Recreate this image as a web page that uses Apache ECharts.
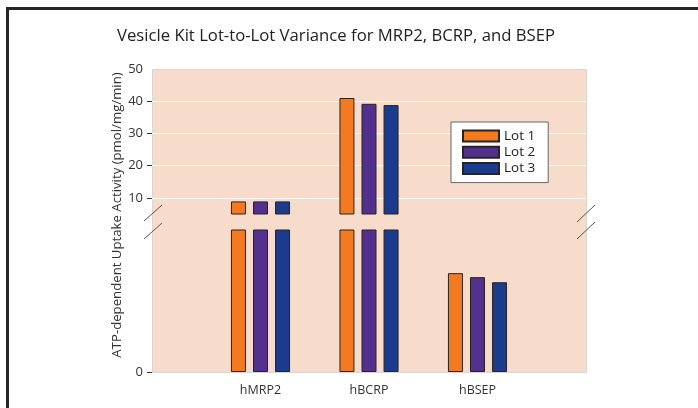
<!doctype html>
<html>
<head>
<meta charset="utf-8">
<title>Vesicle Kit Lot-to-Lot Variance</title>
<script src="https://cdn.jsdelivr.net/npm/echarts@6.0.0/dist/echarts.min.js"></script>
<style>
html,body{margin:0;padding:0;background:#fff;}
#chart{width:698px;height:408px;}
</style>
</head>
<body>
<div id="chart"></div>
<script>
var categories = ['hMRP2', 'hBCRP', 'hBSEP'];
var lotNames = ['Lot 1', 'Lot 2', 'Lot 3'];
var lot1 = [8.9, 41.0, 3.48];
var lot2 = [8.9, 39.2, 3.34];
var lot3 = [8.9, 38.8, 3.16];
var upperTicks = [10, 20, 30, 40, 50];
var lowerTicks = [0];
var lowerMax = 5;   // top of the segment under the break
var upperMin = 5;   // bottom of the segment over the break
var upperMax = 50;

var colors = ['#f47a21', '#53308d', '#1b3b8c'];

// plot box (px)
var L = 152, R = 586, T = 69, B = 372;
var upperBottom = 214, lowerTop = 230;

var axisData = [''].concat(categories, ['']);
function pad(arr) { return [null].concat(arr, [null]); }
var lots = [lot1, lot2, lot3];

var series = [];
lots.forEach(function (vals, i) {
    [1, 0].forEach(function (g) {
        series.push({
            name: lotNames[i],
            type: 'bar',
            xAxisIndex: g,
            yAxisIndex: g,
            barWidth: 15,
            barGap: '47%',
            data: pad(vals),
            itemStyle: { color: colors[i], borderColor: '#2b2220', borderWidth: 1 },
            emphasis: { disabled: true }
        });
    });
});

var yBase = {
    type: 'value',
    axisLine: { show: false },
    axisTick: { show: true, length: 5, lineStyle: { color: '#333' } },
    axisLabel: { color: '#333', fontSize: 13, margin: 9, fontFamily: 'Open Sans' }
};

var chart = echarts.init(document.getElementById('chart'));
chart.setOption({
    animation: false,
    title: {
        text: 'Vesicle Kit Lot-to-Lot Variance for MRP2, BCRP, and BSEP',
        left: 331, top: 23, textAlign: 'center',
        textStyle: { fontSize: 16.7, fontWeight: 'normal', color: '#222', fontFamily: 'Open Sans' }
    },
    legend: {
        orient: 'vertical',
        left: 451, top: 122,
        padding: [7, 13, 7, 11],
        itemWidth: 36, itemHeight: 11, itemGap: 2.3,
        backgroundColor: '#fff', borderColor: '#666', borderWidth: 1,
        icon: 'rect',
        data: lotNames,
        textStyle: { fontSize: 13.5, color: '#222', fontFamily: 'Open Sans' }
    },
    grid: [
        { left: L, width: R - L, top: T, height: upperBottom - T },
        { left: L, width: R - L, top: lowerTop, height: B - lowerTop }
    ],
    xAxis: [
        { type: 'category', gridIndex: 0, data: axisData, boundaryGap: false, show: false },
        {
            type: 'category', gridIndex: 1, data: axisData, boundaryGap: false,
            axisLine: { show: false }, axisTick: { show: false },
            axisLabel: { color: '#333', fontSize: 12.5, margin: 12, fontFamily: 'Open Sans', interval: 0 }
        }
    ],
    yAxis: [
        Object.assign({}, yBase, {
            gridIndex: 0, min: upperMin, max: upperMax,
            axisTick: { show: true, length: 5, lineStyle: { color: '#333' }, customValues: upperTicks.slice(0, -1) },
            axisLabel: Object.assign({}, yBase.axisLabel, { customValues: upperTicks }),
            splitLine: { show: true, lineStyle: { color: '#fff', width: 1.2 } }
        }),
        Object.assign({}, yBase, {
            gridIndex: 1, min: 0, max: lowerMax,
            axisTick: { show: true, length: 5, lineStyle: { color: '#333' }, customValues: lowerTicks },
            axisLabel: Object.assign({}, yBase.axisLabel, { customValues: lowerTicks }),
            splitLine: { show: false }
        })
    ],
    graphic: [
        {   // outer frame: only its top and left sides are inside the picture
            type: 'polyline', z: -20, silent: true,
            shape: { points: [[7.5, 420], [7.5, 8.5], [710, 8.5]] },
            style: { fill: null, stroke: '#262626', lineWidth: 3 }
        },
        {   // plot background across both segments
            type: 'rect', z: -10, silent: true,
            shape: { x: L + 0.5, y: T + 0.5, width: R - L, height: B - T },
            style: { fill: '#f8dccb', stroke: '#dcd6d2', lineWidth: 1 }
        },
        {
            type: 'text', silent: true,
            x: 117, y: 215, rotation: Math.PI / 2,
            style: {
                text: 'ATP-dependent Uptake Activity (pmol/mg/min)',
                fontSize: 13.2, fill: '#333', fontFamily: 'Open Sans',
                align: 'center', verticalAlign: 'middle'
            }
        },
        { type: 'line', silent: true, shape: { x1: 144, y1: 221, x2: 162, y2: 205 }, style: { stroke: '#555', lineWidth: 1 } },
        { type: 'line', silent: true, shape: { x1: 144, y1: 239, x2: 162, y2: 223 }, style: { stroke: '#555', lineWidth: 1 } },
        { type: 'line', silent: true, shape: { x1: 577, y1: 222, x2: 595, y2: 205 }, style: { stroke: '#555', lineWidth: 1 } },
        { type: 'line', silent: true, shape: { x1: 577, y1: 239, x2: 595, y2: 222 }, style: { stroke: '#555', lineWidth: 1 } }
    ],
    series: series
});
</script>
</body>
</html>
